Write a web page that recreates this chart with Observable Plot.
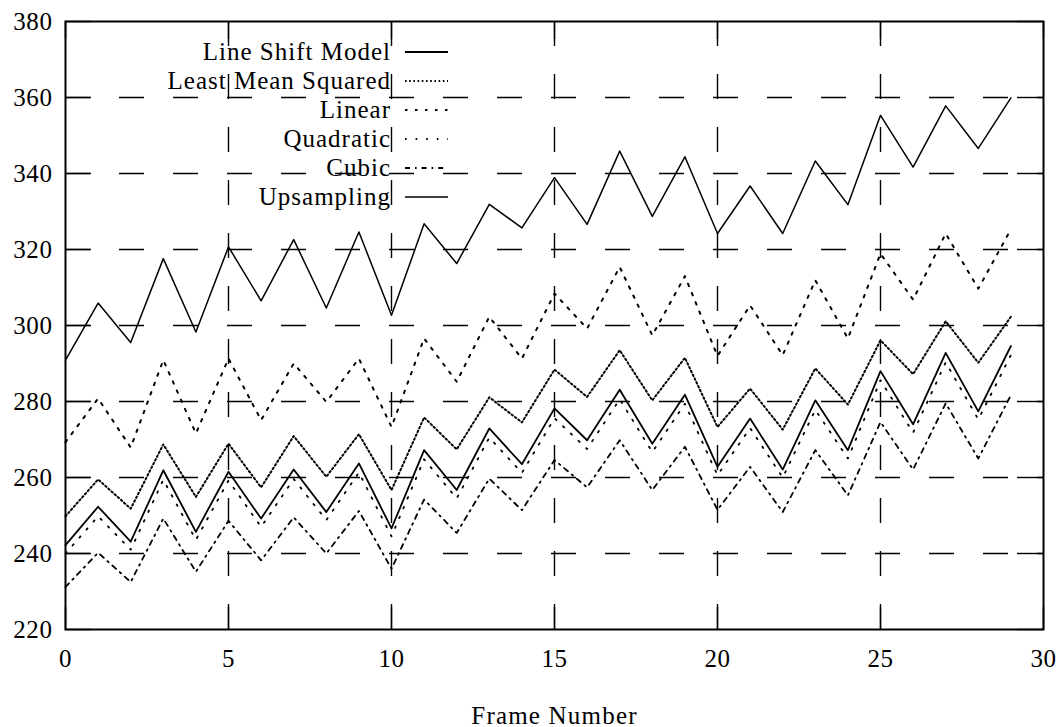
<!DOCTYPE html>
<html>
<head>
<meta charset="utf-8">
<script src="https://cdn.jsdelivr.net/npm/d3@7"></script>
<script src="https://cdn.jsdelivr.net/npm/@observablehq/plot@0.6"></script>
<style>
  body { margin: 0; background: #fff; }
  #wrap { position: relative; width: 1059px; height: 727px; background: #fff; }
  #legend { position: absolute; left: 0; top: 0; pointer-events: none; }
  #wrap svg g[aria-label="x-axis tick label"] text,
  #wrap svg g[aria-label="y-axis tick label"] text { letter-spacing: 0.6px; }
  #wrap svg g[aria-label="x-axis label"] text { letter-spacing: 1.2px; }
</style>
</head>
<body>
<div id="wrap"></div>
<script>
// ---- data ----
const frames = [0,1,2,3,4,5,6,7,8,9,10,11,12,13,14,15,16,17,18,19,20,21,22,23,24,25,26,27,28,29];
const xTicks = [0,5,10,15,20,25,30];
const yTicks = [220,240,260,280,300,320,340,360,380];
const seriesNames = ["Line Shift Model","Least Mean Squared","Linear","Quadratic","Cubic","Upsampling"];

const lineShiftModel = [242.2,252.3,243.1,261.9,245.7,261.5,249.2,262.1,250.9,263.7,246.6,267.2,256.7,272.9,263.5,278.2,269.8,283.1,268.9,281.8,262.8,275.5,262.1,280.3,267.2,288.0,274.0,292.8,277.4,294.6];
const leastMeanSquared = [249.8,259.5,251.8,268.7,254.9,268.9,257.4,270.9,260.2,271.4,256.7,275.8,267.4,281.1,274.5,288.4,281.2,293.5,280.3,291.5,273.3,283.4,272.6,288.7,279.2,296.1,287.2,301.1,290.2,302.3];
const linear = [269.3,280.8,267.9,290.9,271.6,291.3,275.1,290.0,279.9,291.3,273.3,296.6,285.2,302.3,291.3,308.4,299.2,315.4,297.4,313.0,292.0,305.3,292.2,311.9,296.6,318.9,306.8,324.2,309.7,325.3];
const quadratic = [240.0,249.8,241.0,259.4,243.6,259.2,247.0,259.6,248.8,261.3,244.5,264.8,254.5,270.5,261.2,275.6,267.5,280.6,266.7,279.4,260.6,273.0,260.0,277.8,265.0,285.6,271.8,290.3,275.3,292.2];
const cubic = [231.2,240.2,232.5,249.2,235.2,248.6,238.2,249.5,240.0,251.2,236.0,254.2,245.4,259.7,251.4,264.6,257.4,269.8,256.7,268.1,251.5,262.8,250.9,267.2,255.3,274.6,262.1,279.5,265.0,281.7];
const upsampling = [290.9,305.9,295.5,317.6,298.3,320.7,306.5,322.6,304.6,324.6,302.7,326.8,316.3,331.9,325.7,338.9,326.6,345.9,328.7,344.4,324.2,336.7,324.2,343.3,331.8,355.3,341.7,357.8,346.6,359.9];

const seriesValues = [lineShiftModel, leastMeanSquared, linear, quadratic, cubic, upsampling];

// ---- styles (kept apart from data) ----
const lineStyles = {
  "Line Shift Model":   {strokeWidth: 1.8, strokeDasharray: null},
  "Least Mean Squared": {strokeWidth: 2.0, strokeDasharray: "1.6,2.6"},
  "Linear":             {strokeWidth: 2.0, strokeDasharray: "2.5,7.5"},
  "Quadratic":          {strokeWidth: 1.8, strokeDasharray: "1.6,9"},
  "Cubic":              {strokeWidth: 1.8, strokeDasharray: "5,5,1.6,5"},
  "Upsampling":         {strokeWidth: 1.5, strokeDasharray: null}
};

const table = [];
seriesNames.forEach((name, s) => {
  frames.forEach((f, i) => table.push({series: name, frame: f, value: seriesValues[s][i]}));
});

const FONT = "'Liberation Serif', 'Times New Roman', serif";
const innerX = xTicks.filter(v => v > 0 && v < 30);
const innerY = yTicks.filter(v => v > 220 && v < 380);

const chart = Plot.plot({
  width: 1059,
  height: 727,
  marginLeft: 65,
  marginRight: 16,
  marginTop: 21,
  marginBottom: 98,
  style: {fontFamily: FONT, fontSize: "25px", color: "#000", background: "#fff", overflow: "visible"},
  x: {domain: [0, 30]},
  y: {domain: [220, 380]},
  marks: [
    Plot.gridX(innerX, {stroke: "#000", strokeOpacity: 1, strokeWidth: 1.4, strokeDasharray: "25,28"}),
    Plot.gridY(innerY, {stroke: "#000", strokeOpacity: 1, strokeWidth: 1.4, strokeDasharray: "25,29"}),
    Plot.tickX(xTicks, {x: d => d, stroke: "#000", strokeWidth: 1.4, insetTop: 586}),
    Plot.tickX(xTicks, {x: d => d, stroke: "#000", strokeWidth: 1.4, insetBottom: 590}),
    Plot.tickY(yTicks, {y: d => d, stroke: "#000", strokeWidth: 1.4, insetRight: 952}),
    Plot.tickY(yTicks, {y: d => d, stroke: "#000", strokeWidth: 1.4, insetLeft: 952}),
    ...seriesNames.map(name => Plot.line(table.filter(d => d.series === name), {
      x: "frame", y: "value", stroke: "#000",
      strokeWidth: lineStyles[name].strokeWidth,
      strokeDasharray: lineStyles[name].strokeDasharray,
      strokeLinecap: "round", strokeLinejoin: "round"
    })),
    Plot.frame({stroke: "#000", strokeWidth: 2}),
    Plot.axisX(xTicks, {anchor: "bottom", tickSize: 0, tickPadding: 20, fontSize: 25,
      label: "Frame Number", labelAnchor: "center", labelArrow: "none", labelOffset: 94}),
    Plot.axisY(yTicks, {anchor: "left", tickSize: 0, tickPadding: 13, fontSize: 25, label: null})
  ]
});

const wrap = document.getElementById("wrap");
wrap.appendChild(chart);

// ---- legend overlay (inside the plot area, top-left) ----
const legendRows = [
  {name: "Line Shift Model", base: 60},
  {name: "Least Mean Squared", base: 89},
  {name: "Linear", base: 118},
  {name: "Quadratic", base: 147},
  {name: "Cubic", base: 176},
  {name: "Upsampling", base: 205}
];
const ns = "http://www.w3.org/2000/svg";
const leg = document.createElementNS(ns, "svg");
leg.setAttribute("id", "legend");
leg.setAttribute("width", 1059);
leg.setAttribute("height", 727);
legendRows.forEach(r => {
  const t = document.createElementNS(ns, "text");
  t.setAttribute("x", 391);
  t.setAttribute("y", r.base);
  t.setAttribute("text-anchor", "end");
  t.setAttribute("font-family", FONT);
  t.setAttribute("font-size", "25");
  t.setAttribute("letter-spacing", "1");
  t.setAttribute("fill", "#000");
  t.textContent = r.name;
  leg.appendChild(t);
  const l = document.createElementNS(ns, "line");
  l.setAttribute("x1", 405);
  l.setAttribute("x2", 448);
  l.setAttribute("y1", r.base - 8);
  l.setAttribute("y2", r.base - 8);
  l.setAttribute("stroke", "#000");
  l.setAttribute("stroke-width", lineStyles[r.name].strokeWidth);
  if (lineStyles[r.name].strokeDasharray) l.setAttribute("stroke-dasharray", lineStyles[r.name].strokeDasharray);
  leg.appendChild(l);
});
wrap.appendChild(leg);
</script>
</body>
</html>
